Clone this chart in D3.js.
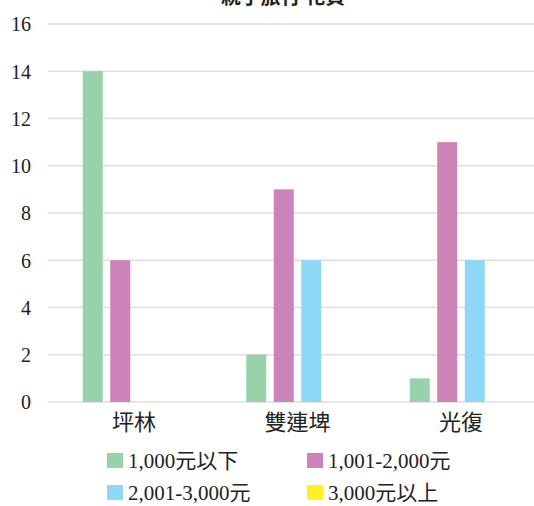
<!DOCTYPE html>
<html><head><meta charset="utf-8">
<script src="https://cdn.jsdelivr.net/npm/d3@7"></script>
<style>body{margin:0;background:#fff;overflow:hidden}svg{display:block}</style>
</head><body>
<svg id="c" width="534" height="506"></svg>
<script>
const title = "親子旅行 花費";
const categories = ["坪林", "雙連埤", "光復"];
const seriesNames = ["1,000元以下", "1,001-2,000元", "2,001-3,000元", "3,000元以上"];
const seriesColors = ["#98d1aa", "#cc83ba", "#8ed8f5", "#fff125"];
const s1 = [14, 2, 1];
const s2 = [6, 9, 11];
const s3 = [0, 6, 6];
const s4 = [0, 0, 0];
const yTicks = [0, 2, 4, 6, 8, 10, 12, 14, 16];

const seriesValues = [s1, s2, s3, s4];
const svg = d3.select("#c");
const SERIF = "Liberation Serif";
const CJK = "Noto Sans CJK TC";

const y = d3.scaleLinear().domain([0, 16]).range([402, 24]);
const x0 = d3.scaleBand().domain(categories).range([52.25, 542.75]).padding(0);
const x1 = d3.scaleBand().domain(d3.range(seriesNames.length)).range([0, x0.bandwidth()])
  .paddingInner(0.2727).paddingOuter(1.109);

// title (clipped at top, as in the reference)
svg.append("text").attr("x", 283).attr("y", 4).attr("text-anchor", "middle")
  .attr("font-family", CJK).attr("font-size", 20).attr("font-weight", "bold")
  .attr("fill", "#222").text(title);

// gridlines
svg.append("g").selectAll("line").data(yTicks).join("line")
  .attr("x1", 48).attr("x2", 534)
  .attr("y1", d => y(d)).attr("y2", d => y(d))
  .attr("stroke", "#dedede").attr("stroke-width", 1.3);

// y axis
const yAxis = d3.axisLeft(y).tickValues(yTicks).tickSize(0).tickPadding(0);
const gy = svg.append("g").attr("transform", "translate(31,0)").call(yAxis)
  .attr("font-family", SERIF).attr("font-size", 20);
gy.select(".domain").remove();
gy.selectAll("text").attr("fill", "#222").attr("dy", "0.34em");

// bars
const groups = svg.append("g").selectAll("g").data(categories).join("g")
  .attr("transform", d => `translate(${x0(d)},0)`);
groups.selectAll("rect")
  .data((c, ci) => seriesValues.map((vals, si) => ({si, v: vals[ci]})))
  .join("rect")
  .attr("x", d => x1(d.si)).attr("width", x1.bandwidth())
  .attr("y", d => y(d.v)).attr("height", d => y(0) - y(d.v))
  .attr("fill", d => seriesColors[d.si]);

// x axis labels
const xAxis = d3.axisBottom(x0).tickSize(0).tickPadding(0);
const gx = svg.append("g").attr("transform", "translate(0,402)").call(xAxis)
  .attr("font-family", CJK).attr("font-size", 22);
gx.select(".domain").remove();
gx.selectAll("text").attr("dy", null).attr("y", 28).attr("fill", "#222");

// legend
const legPos = [[107, 453], [307, 453], [107, 485], [307, 485]];
const leg = svg.append("g").selectAll("g").data(seriesNames).join("g")
  .attr("transform", (d, i) => `translate(${legPos[i][0]},${legPos[i][1]})`);
leg.append("rect").attr("width", 16).attr("height", 15)
  .attr("fill", (d, i) => seriesColors[i]);
const lt = leg.append("text").attr("x", 21).attr("y", 15)
  .attr("font-size", 21).attr("fill", "#222");
lt.selectAll("tspan").data(d => d.match(/[\x00-\x7f]+|[^\x00-\x7f]+/g)).join("tspan")
  .attr("font-family", d => /^[\x00-\x7f]+$/.test(d) ? SERIF : CJK)
  .text(d => d);
</script>
</body></html>
